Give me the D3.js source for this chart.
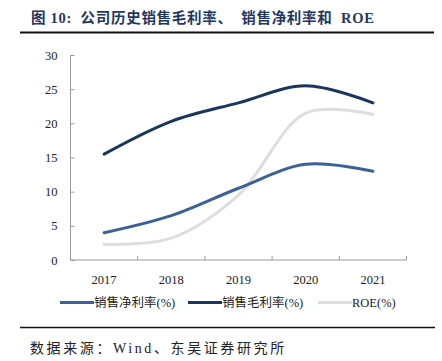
<!DOCTYPE html>
<html>
<head>
<meta charset="utf-8">
<script src="https://cdn.jsdelivr.net/npm/d3@7"></script>
<style>
body { margin: 0; background: #fff; }
svg { display: block; }
.tick text { font-family: "Liberation Serif", serif; font-size: 12.5px; fill: #222; }
</style>
</head>
<body>
<svg id="chart" width="442" height="361"></svg>
<script>
// data
var years = ["2017", "2018", "2019", "2020", "2021"];
var netMargin = [4.0, 6.5, 10.5, 14.0, 13.0];
var grossMargin = [15.5, 20.3, 23.0, 25.5, 23.0];
var roe = [2.3, 3.2, 9.5, 21.5, 21.3];
var yTicks = [0, 5, 10, 15, 20, 25, 30];

var seriesNames = ["销售净利率(%)", "销售毛利率(%)", "ROE(%)"];
var seriesColors = ["#3a6297", "#1a355e", "#dedede"];

var svg = d3.select("#chart");

// title
svg.append("text")
    .attr("x", 31).attr("y", 23)
    .attr("font-family", "'Liberation Serif', 'Noto Sans CJK SC', serif")
    .attr("font-weight", "bold")
    .attr("font-size", 14.5)
    .attr("letter-spacing", 0.7)
    .attr("fill", "#1f3763")
    .style("white-space", "pre")
    .text("图 10:  公司历史销售毛利率、  销售净利率和  ROE");
svg.append("line").attr("x1", 20).attr("x2", 434).attr("y1", 32.5).attr("y2", 32.5)
    .attr("stroke", "#111").attr("stroke-width", 2);

var x = d3.scaleBand().domain(years).range([70.5, 406.5]);
var y = d3.scaleLinear().domain([0, 30]).range([260, 55]);

var yAxis = svg.append("g").attr("transform", "translate(70.5,0)")
    .call(d3.axisLeft(y).tickValues(yTicks).tickSize(-4).tickPadding(13));
var xAxis = svg.append("g").attr("transform", "translate(0,260)")
    .call(d3.axisBottom(x).tickSize(0).tickPadding(15));

// x ticks at band edges, pointing up
xAxis.selectAll(".edge").data(years.concat(["end"])).enter().append("line")
    .attr("class", "edge")
    .attr("x1", (d, i) => i < years.length ? x(d) : x.range()[1])
    .attr("x2", (d, i) => i < years.length ? x(d) : x.range()[1])
    .attr("y1", 0).attr("y2", -4);
svg.selectAll(".domain, .tick line, .edge").attr("stroke", "#9a9a9a");
yAxis.select(".domain").attr("d", "M0,55V260");
xAxis.select(".domain").attr("d", "M70.5,0H406.5");

var line = d3.line()
    .x((d, i) => x(years[i]) + x.bandwidth() / 2)
    .y(d => y(d))
    .curve(d3.curveCatmullRom.alpha(0.5));

var allSeries = [netMargin, grossMargin, roe];
// draw ROE first so it sits underneath
[2, 0, 1].forEach(function(k) {
    svg.append("path")
        .datum(allSeries[k])
        .attr("d", line)
        .attr("fill", "none")
        .attr("stroke", seriesColors[k])
        .attr("stroke-width", 3)
        .attr("stroke-linecap", "round");
});

// legend
var legendX = [60, 188, 318];
var legend = svg.selectAll(".legend").data(seriesNames).enter().append("g")
    .attr("class", "legend")
    .attr("transform", (d, i) => "translate(" + legendX[i] + ",302.5)");
legend.append("line").attr("x1", 0).attr("x2", 34)
    .attr("stroke", (d, i) => seriesColors[i]).attr("stroke-width", 3);
legend.append("text").attr("x", 34).attr("y", 4.5)
    .attr("font-family", "'Liberation Serif', 'Noto Sans CJK SC', serif")
    .attr("font-size", 12.5).attr("fill", "#222")
    .text(d => d);

// source
svg.append("line").attr("x1", 20).attr("x2", 435).attr("y1", 327.5).attr("y2", 327.5)
    .attr("stroke", "#111").attr("stroke-width", 1.5);
svg.append("text")
    .attr("x", 30).attr("y", 353)
    .attr("font-family", "'Liberation Serif', 'Noto Sans CJK SC', serif")
    .attr("font-size", 14).attr("letter-spacing", 2.6).attr("fill", "#222")
    .text("数据来源：Wind、东吴证券研究所");
</script>
</body>
</html>
